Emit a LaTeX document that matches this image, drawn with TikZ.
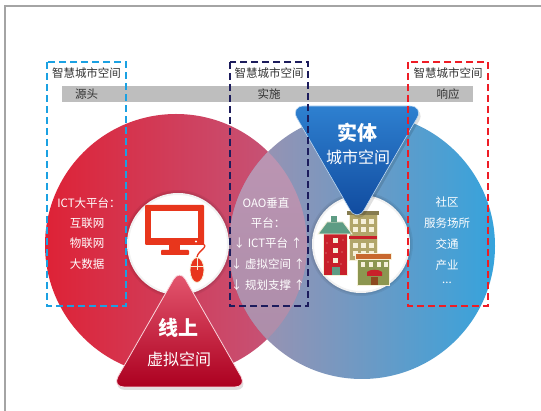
\documentclass[tikz,border=0pt]{standalone}
\usepackage{fontspec}
\setmainfont{Noto Sans CJK SC}
\usetikzlibrary{calc,shapes.geometric}

\definecolor{framegray}{HTML}{A4A4A4}
\definecolor{labelgray}{HTML}{333333}
\definecolor{bandgray}{HTML}{BEBEBE}
\definecolor{ringredL}{HTML}{DE2236}
\definecolor{ringredR}{HTML}{C25A80}
\definecolor{ringbluL}{HTML}{A690AC}
\definecolor{ringbluM}{HTML}{809AC2}
\definecolor{ringbluR}{HTML}{36A3DC}
\definecolor{lensTop}{HTML}{BE96B4}
\definecolor{lensBot}{HTML}{AA8CA8}
\definecolor{tribluT}{HTML}{2E80D0}
\definecolor{tribluB}{HTML}{0F489C}
\definecolor{triredT}{HTML}{E65A72}
\definecolor{triredM}{HTML}{D81030}
\definecolor{triredB}{HTML}{AC0020}
\definecolor{dashcyan}{HTML}{1BA1E2}
\definecolor{dashnavy}{HTML}{1C1C5C}
\definecolor{dashred}{HTML}{EE1C25}
\definecolor{monred}{HTML}{E8361C}
\definecolor{bldred}{HTML}{C8202A}
\definecolor{bldtan}{HTML}{B2A66A}
\definecolor{bldgreen}{HTML}{8C9650}
\definecolor{roofteal}{HTML}{5E9C84}
\definecolor{roofbrown}{HTML}{C8682E}
\definecolor{cream}{HTML}{F6F0D8}

\begin{document}
\begin{tikzpicture}[x=1pt,y=-1pt,
  lbl/.style={text=labelgray, font=\fontsize{11.5}{12}\selectfont, inner sep=0pt},
  ringtxt/.style={text=white, font=\fontsize{11.5}{12}\selectfont, inner sep=0pt},
  trititle/.style={text=white, font=\fontsize{20}{22}\selectfont\bfseries, inner sep=0pt},
  trisub/.style={text=white, font=\fontsize{16}{18}\selectfont, inner sep=0pt},
  dbox/.style={line width=2pt, dash pattern=on 7pt off 4pt},
  win/.style={fill=cream},
  bld/.style={draw=cream, line width=0.8pt}]
\useasboundingbox (0,0) rectangle (541,411);
\fill[white] (0,0) rectangle (541,411);

% page frame
\coordinate (fBL) at (5,411);
\coordinate (fTL) at (5,6);
\coordinate (fTR) at (541,6);
\draw[framegray, line width=1.5pt] (fBL) -- (fTL) -- (fTR);

% the two rings
\coordinate (L) at (176,245);
\coordinate (R) at (362,246);
\shade[left color=ringredL, right color=ringredR] (L) circle[radius=131pt];
\shade[left color=ringbluL, middle color=ringbluM, right color=ringbluR] (R) circle[radius=133pt];
\begin{scope}
  \clip (L) circle[radius=131pt];
  \shade[top color=lensTop, bottom color=lensBot] (R) circle[radius=133pt];
\end{scope}

% white hubs with soft edge
\coordinate (WL) at (178,244);
\coordinate (WR) at (361,244);
\foreach \c/\r in {WL/51, WR/49}{
  \fill[black, opacity=0.06] (\c) circle[radius=\r pt+3pt];
  \fill[black, opacity=0.06] (\c) circle[radius=\r pt+1.5pt];
  \fill[white] (\c) circle[radius=\r pt];
  \draw[black, opacity=0.05, line width=2pt] (\c) circle[radius=\r pt-1pt];
}

% monitor and mouse
\fill[monred, rounded corners=1pt] (145,205) rectangle (204,245);
\fill[white] (151,211) rectangle (198,238);
\fill[white] (196,241.5) circle[radius=1.1pt];
\fill[monred] (169,245) rectangle (180,251);
\fill[monred, rounded corners=0.8pt] (161,250) rectangle (189,255);
\coordinate (cabA) at (200,243);
\coordinate (cabB) at (197,257);
\draw[monred, line width=1.3pt] (cabA) .. controls (212,246) and (198,250) .. (cabB);
\node[ellipse, draw=cream, line width=0.8pt, fill=monred, minimum width=14pt, minimum height=25pt, inner sep=0pt] (mouse) at (197,270) {};
\draw[cream, line width=0.6pt] (mouse.north) -- (mouse.center);
\draw[cream, line width=0.6pt] (190,266) -- (204,266);

% buildings
\fill[bldtan, bld] (349,213) rectangle (377,260);
\fill[bldtan!75!black] (347,211) rectangle (379,215);
\fill[bldred] (349,236) rectangle (377,239);
\foreach \xx in {353,361,369}{
  \foreach \yy in {219,227,243,251}{
    \fill[win] (\xx,\yy) rectangle ++(5,5);
  }
}
\fill[bldred, bld] (323,233) rectangle (347,275);
\fill[roofteal, bld] (318,234) -- (327,222) -- (343,222) -- (352,234) -- cycle;
\fill[roofteal] (331,216) rectangle (337,222);
\foreach \yy in {238,248,258}{
  \fill[win] (333,\yy) rectangle ++(5,5);
}
\foreach \xx/\yy in {327/243,342/252,328/262,343/240,326/253,341/264}{
  \fill[cream, opacity=0.7] (\xx,\yy) circle[radius=0.7pt];
}
\fill[roofteal] (332,267) rectangle (340,275);
\fill[bldgreen, bld] (357,257) rectangle (389,285);
\fill[roofbrown, bld] (355,253) rectangle (391,259);
\foreach \xx in {361,369,377,384}{
  \fill[win] (\xx,262) rectangle ++(4,5);
}
\fill[bldred] (367,276) -- (367,272) .. controls (370,269) and (379,269) .. (382,272) -- (382,276) -- cycle;
\fill[roofbrown!70!black] (371,277) rectangle (378,285);

% triangle badges
\coordinate (bt1) at (290,106);
\coordinate (bt2) at (424,106);
\coordinate (bt3) at (357,222);
\fill[black, opacity=0.12, rounded corners=14pt]
  ($(bt1)!0.5!(bt2)+(2,3)$) -- ($(bt2)+(2,3)$) -- ($(bt3)+(2,3)$) -- ($(bt1)+(2,3)$) -- cycle;
\shade[top color=tribluT, bottom color=tribluB, draw=white!70!tribluT, line width=0.6pt, rounded corners=14pt]
  ($(bt1)!0.5!(bt2)$) -- (bt2) -- (bt3) -- (bt1) -- cycle;
\node[trititle] (shiti) at (357,133) {实体};
\node[trisub] (shiticity) at (358,157) {城市空间};

\coordinate (rt1) at (179.5,269);
\coordinate (rt2) at (247,387);
\coordinate (rt3) at (112,387);
\fill[black, opacity=0.12, rounded corners=12pt]
  ($(rt2)!0.5!(rt3)+(1,3)$) -- ($(rt3)+(1,3)$) -- ($(rt1)+(1,3)$) -- ($(rt2)+(1,3)$) -- cycle;
\shade[top color=triredT, middle color=triredM, bottom color=triredB, draw=white!75!triredT, line width=0.8pt, rounded corners=12pt]
  ($(rt2)!0.5!(rt3)$) -- (rt3) -- (rt1) -- (rt2) -- cycle;
\node[trititle] (xianshang) at (178,328) {线上};
\node[trisub] (xuni) at (179,359) {虚拟空间};

% header band
\fill[bandgray] (62,86) rectangle (473,102);
\node[lbl] (src) at (86.5,94) {源头};
\node[lbl] (impl) at (269,94) {实施};
\node[lbl] (resp) at (448,94) {响应};
\node[lbl] (capL) at (86.5,73) {智慧城市空间};
\node[lbl] (capM) at (269,73) {智慧城市空间};
\node[lbl] (capR) at (448,73) {智慧城市空间};

% texts on the rings
\node[ringtxt] (l1) at (89,203) {ICT大平台：};
\node[ringtxt] (l2) at (87,223) {互联网};
\node[ringtxt] (l3) at (87,243) {物联网};
\node[ringtxt] (l4) at (87,264) {大数据};

\node[ringtxt] (m1) at (266,203) {OAO垂直};
\node[ringtxt] (m2) at (268,223) {平台：};
\node[ringtxt] (m3) at (268,243) {↓ ICT平台 ↑};
\node[ringtxt] (m4) at (268,264) {↓ 虚拟空间 ↑};
\node[ringtxt] (m5) at (268,285) {↓ 规划支撑 ↑};

\node[ringtxt] (r1) at (447,202) {社区};
\node[ringtxt] (r2) at (447,223) {服务场所};
\node[ringtxt] (r3) at (447,244) {交通};
\node[ringtxt] (r4) at (447,265) {产业};
\node[ringtxt] (r5) at (447,283) {...};

% dashed columns
\draw[dbox, dashcyan] (47,62) rectangle (126,306);
\draw[dbox, dashnavy] (230,62) rectangle (308,306);
\draw[dbox, dashred] (408,62) rectangle (488,306);
\end{tikzpicture}
\end{document}
